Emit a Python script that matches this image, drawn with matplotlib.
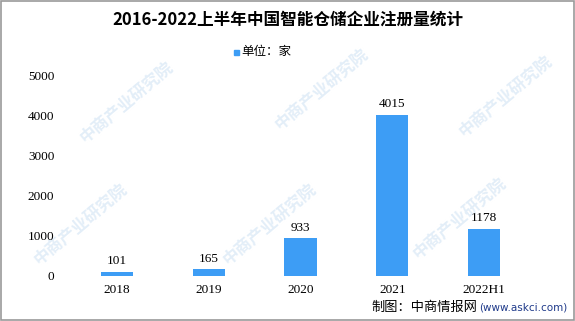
import matplotlib.pyplot as plt
from matplotlib.patches import Rectangle

plt.rcParams['font.family'] = ['Noto Sans CJK SC', 'DejaVu Sans']

years = ['2018', '2019', '2020', '2021', '2022H1']
counts = [101, 165, 933, 4015, 1178]
bar_color = '#3D9DF5'

fig = plt.figure(figsize=(5.75, 3.21), dpi=100)
ax = fig.add_axes([71 / 575, 1 - 276 / 321, 459 / 575, 201 / 321])
ax.set_zorder(2)

# 水印
for wx, wy in [(0.22, 0.68), (0.56, 0.72), (0.88, 0.70),
               (0.14, 0.30), (0.47, 0.30), (0.80, 0.32)]:
    fig.text(wx, wy, '中商产业研究院', rotation=40, color='#e3eef8',
             fontsize=12, fontweight='bold', ha='center', va='center', zorder=0)

x = range(len(years))
ax.bar(x, counts, width=0.35, color=bar_color, zorder=2)
for xi, v in zip(x, counts):
    ax.text(xi, v + 120, str(v), ha='center', va='bottom', fontsize=9.5,
            family=['Liberation Serif', 'DejaVu Serif'])

ax.set_xlim(-0.5, len(years) - 0.5)
ax.set_ylim(0, 5000)
ax.set_yticks(range(0, 5001, 1000))
ax.set_xticks(list(x))
ax.set_xticklabels(years)
ax.tick_params(length=0, labelsize=9.5, pad=6)
ax.tick_params(axis='y', pad=12)
for lab in ax.get_xticklabels() + ax.get_yticklabels():
    lab.set_family(['Liberation Serif', 'DejaVu Serif'])
for s in ax.spines.values():
    s.set_visible(False)
ax.patch.set_alpha(0)

fig.text(0.5, 1 - 20 / 321, '2016-2022上半年中国智能仓储企业注册量统计',
         ha='center', va='center', fontsize=12, fontweight='bold')
fig.patches.append(Rectangle((234 / 575, 1 - 55 / 321), 5 / 575, 5 / 321,
                             transform=fig.transFigure, color=bar_color))
fig.text(241 / 575, 1 - 52 / 321, '单位：家', ha='left', va='center', fontsize=9)

fig.text(477 / 575, 1 - 307 / 321, '制图：中商情报网', ha='right', va='center', fontsize=9.5)
fig.text(479 / 575, 1 - 307 / 321, '(www.askci.com)', ha='left', va='center',
         fontsize=7.5, color='#1f3a8a', family='DejaVu Sans')

fig.patches.append(Rectangle((0.001, 0.002), 0.997, 0.995, transform=fig.transFigure,
                             fill=False, edgecolor='#999999', linewidth=1.2))

fig.savefig('out.png', dpi=100)
